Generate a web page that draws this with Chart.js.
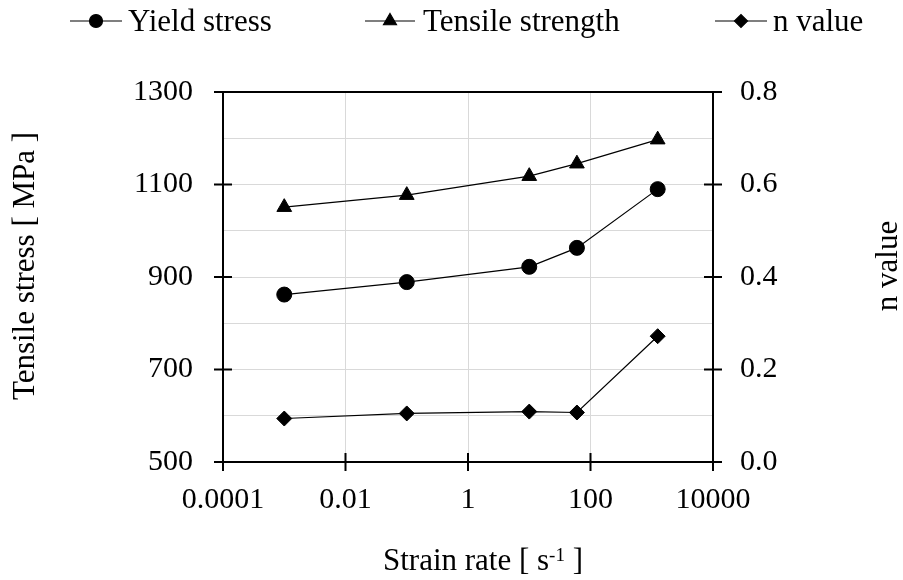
<!DOCTYPE html>
<html>
<head>
<meta charset="utf-8">
<title>Strain rate dependence</title>
<script src="https://cdn.jsdelivr.net/npm/chart.js@4.4.1/dist/chart.umd.min.js"></script>
<style>
  html, body { margin: 0; padding: 0; background: #fff; }
  canvas { display: block; }
</style>
</head>
<body>
<canvas id="chart" width="903" height="580"></canvas>
<script>
// measured values vs strain rate
const strainRate = [0.001, 0.1, 10, 60, 1250];
const yieldStress = [862, 889, 922, 963, 1090];
const tensileStrength = [1051, 1077, 1118, 1145, 1197];
const nValue = [0.094, 0.105, 0.109, 0.107, 0.272];

// axis ticks
const xTicks = [0.0001, 0.01, 1, 100, 10000];
const xTickLabels = ['0.0001', '0.01', '1', '100', '10000'];
const stressTicks = [500, 700, 900, 1100, 1300];
const nTicks = [0, 0.2, 0.4, 0.6, 0.8];

const FONT = "'Liberation Serif', 'Times New Roman', serif";

const series = [
  { label: 'Yield stress', data: yieldStress, style: 'circle', radius: 7.5, legendRadius: 6.5, axis: 'y' },
  { label: 'Tensile strength', data: tensileStrength, style: 'triangle', radius: 8.5, legendRadius: 7.5, axis: 'y' },
  { label: 'n value', data: nValue, style: 'rectRot', radius: 7.5, legendRadius: 6.5, axis: 'y2' }
];

// legend slots: line start, line end, text start
const legendSlots = [[70, 122, 128], [365, 415, 423], [715, 767, 773]];

const decorations = {
  id: 'decorations',
  afterDraw(chart) {
    const { ctx, chartArea: a, scales } = chart;
    ctx.save();
    ctx.strokeStyle = '#000';
    ctx.fillStyle = '#000';

    // top edge of the frame + cross tick marks
    ctx.lineWidth = 2;
    ctx.beginPath();
    ctx.moveTo(a.left, a.top);
    ctx.lineTo(a.right, a.top);
    stressTicks.forEach(v => {
      const y = scales.y.getPixelForValue(v);
      ctx.moveTo(a.left - 9, y);
      ctx.lineTo(a.left + 9, y);
    });
    nTicks.forEach(v => {
      const y = scales.y2.getPixelForValue(v);
      ctx.moveTo(a.right - 9, y);
      ctx.lineTo(a.right + 9, y);
    });
    xTicks.forEach(v => {
      const x = scales.x.getPixelForValue(v);
      ctx.moveTo(x, a.bottom - 9);
      ctx.lineTo(x, a.bottom + 9);
    });
    ctx.stroke();

    // legend
    ctx.font = '31px ' + FONT;
    ctx.textBaseline = 'alphabetic';
    ctx.textAlign = 'left';
    series.forEach((s, i) => {
      const [x0, x1, tx] = legendSlots[i];
      ctx.lineWidth = 1.2;
      ctx.beginPath();
      ctx.moveTo(x0, 21);
      ctx.lineTo(x1, 21);
      ctx.stroke();
      Chart.helpers.drawPoint(ctx, { pointStyle: s.style, radius: s.legendRadius, rotation: 0, borderWidth: 1 }, (x0 + x1) / 2, 21);
      ctx.fillText(s.label, tx, 31);
    });

    // axis titles
    ctx.textAlign = 'center';
    ctx.save();
    ctx.translate(34, 266);
    ctx.rotate(-Math.PI / 2);
    ctx.fillText('Tensile stress [ MPa ]', 0, 0);
    ctx.restore();

    ctx.save();
    ctx.translate(897, 266);
    ctx.rotate(-Math.PI / 2);
    ctx.fillText('n value', 0, 0);
    ctx.restore();

    // x title with superscript exponent
    const main = 'Strain rate [ s';
    const sup = '-1';
    const tail = ' ]';
    ctx.textAlign = 'left';
    ctx.font = '31px ' + FONT;
    const wMain = ctx.measureText(main).width;
    const wTail = ctx.measureText(tail).width;
    ctx.font = '19px ' + FONT;
    const wSup = ctx.measureText(sup).width;
    let x = 483 - (wMain + wSup + wTail) / 2;
    ctx.font = '31px ' + FONT;
    ctx.fillText(main, x, 570);
    x += wMain;
    ctx.font = '19px ' + FONT;
    ctx.fillText(sup, x, 561);
    x += wSup;
    ctx.font = '31px ' + FONT;
    ctx.fillText(tail, x, 570);

    ctx.restore();
  }
};

const tickFont = { family: FONT, size: 30 };

new Chart(document.getElementById('chart'), {
  type: 'line',
  data: {
    datasets: series.map(s => ({
      label: s.label,
      data: strainRate.map((x, i) => ({ x, y: s.data[i] })),
      yAxisID: s.axis,
      borderColor: '#000',
      backgroundColor: '#000',
      borderWidth: 1.2,
      pointStyle: s.style,
      pointRadius: s.radius,
      pointHoverRadius: s.radius,
      pointBorderWidth: 1,
      tension: 0
    }))
  },
  options: {
    responsive: false,
    animation: false,
    layout: { padding: { top: 92, left: 0, right: 0, bottom: 0 } },
    plugins: {
      legend: { display: false },
      tooltip: { enabled: false }
    },
    scales: {
      x: {
        type: 'logarithmic',
        min: 0.0001,
        max: 10000,
        afterBuildTicks: scale => { scale.ticks = xTicks.map(v => ({ value: v })); },
        afterFit: scale => { scale.height = 118; },
        ticks: {
          autoSkip: false,
          maxRotation: 0,
          color: '#000',
          font: tickFont,
          padding: 20,
          callback: (v, i) => xTickLabels[i]
        },
        grid: { color: '#d9d9d9', lineWidth: 1, drawTicks: false },
        border: { display: true, color: '#000', width: 2 }
      },
      y: {
        position: 'left',
        min: 500,
        max: 1300,
        afterFit: scale => { scale.width = 223; },
        ticks: {
          stepSize: 100,
          color: '#000',
          font: tickFont,
          padding: 30,
          callback: v => (stressTicks.includes(v) ? String(v) : '')
        },
        grid: { color: '#d9d9d9', lineWidth: 1, drawTicks: false },
        border: { display: true, color: '#000', width: 2 }
      },
      y2: {
        position: 'right',
        min: 0,
        max: 0.8,
        afterFit: scale => { scale.width = 190; },
        afterBuildTicks: scale => { scale.ticks = nTicks.map(v => ({ value: v })); },
        ticks: {
          color: '#000',
          font: tickFont,
          padding: 27,
          callback: v => v.toFixed(1)
        },
        grid: { display: false, drawTicks: false },
        border: { display: true, color: '#000', width: 2 }
      }
    }
  },
  plugins: [decorations]
});
</script>
</body>
</html>
